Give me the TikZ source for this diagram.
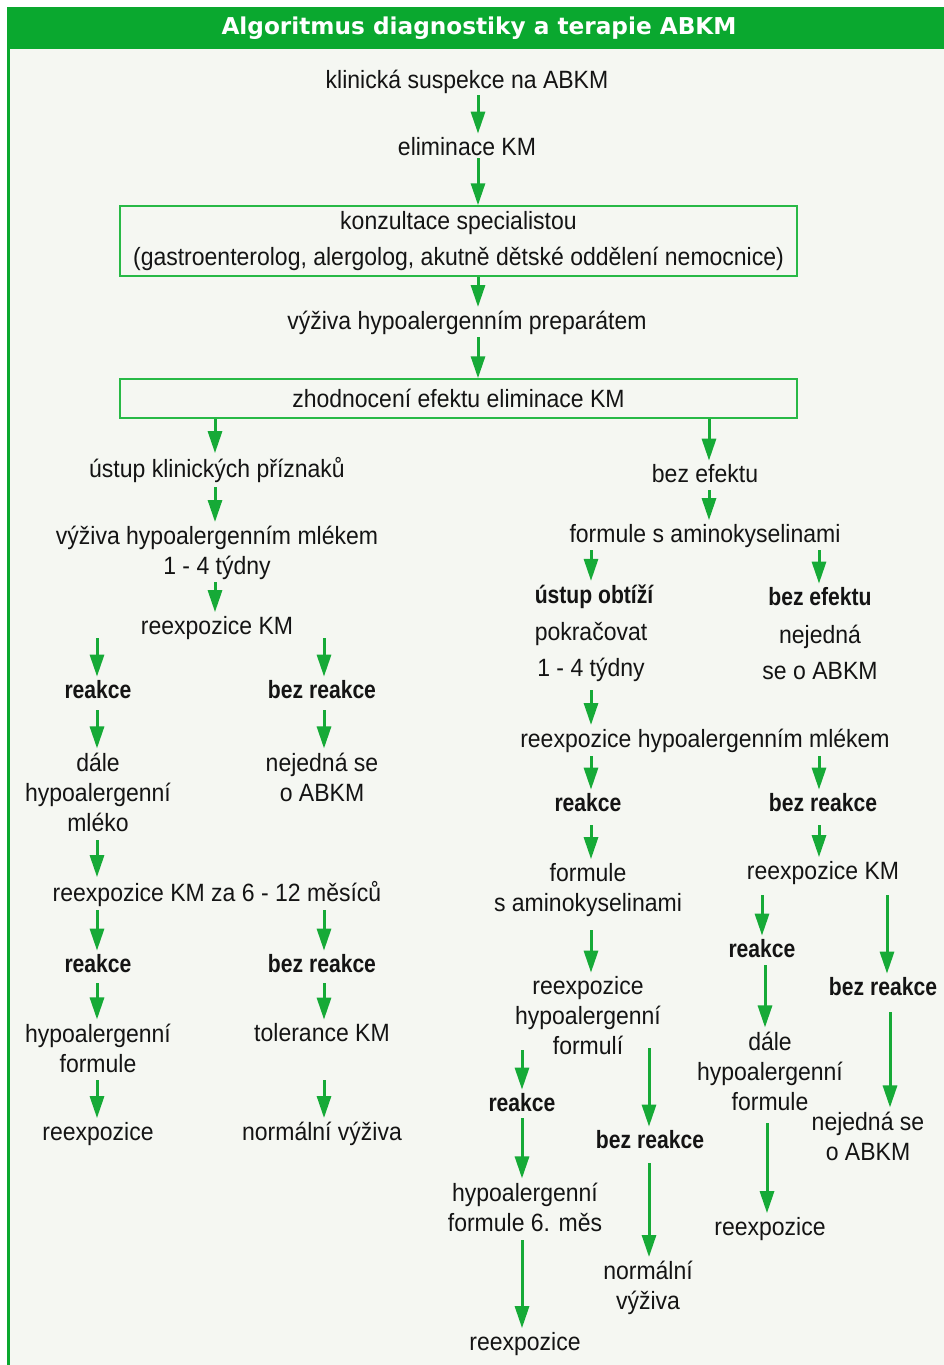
\documentclass[tikz,border=0pt]{standalone}
\usepackage{fontspec}
\setmainfont{Liberation Sans}[UprightFeatures={FakeStretch=0.92}, BoldFeatures={FakeStretch=0.845}]
\newfontfamily\titlefont{DejaVu Sans}
\usetikzlibrary{arrows.meta}
\definecolor{G}{RGB}{10,168,47}
\definecolor{AG}{RGB}{22,170,55}
\definecolor{BG}{RGB}{245,247,242}
\definecolor{BX}{RGB}{40,185,70}
\definecolor{TX}{RGB}{20,20,20}
\tikzset{
  txt/.style={inner sep=0pt, align=center, text=TX, font=\fontsize{25}{30}\selectfont},
  bl/.style={txt, font=\fontsize{25}{30}\selectfont\bfseries},
  frame/.style={draw=BX, line width=1.5pt, inner sep=0pt, txt},
  arr/.style={draw=AG, line width=3pt, -{Triangle[length=22pt,width=14pt]}, shorten >=4pt},
}
\begin{document}
\begin{tikzpicture}[x=1pt,y=-1pt]
\useasboundingbox (0,0) rectangle (944,1365);
% background and frame
\fill[BG] (8,7) rectangle (944,1365);
\fill[G] (7,7) rectangle (944,49);
\draw[G, line width=3pt] (8.5,49) -- (8.5,1365);
\node[font=\titlefont\fontsize{23.2}{26}\selectfont\bfseries, text=white, inner sep=0pt] (title) at (479,28) {Algoritmus diagnostiky a terapie ABKM};

% main column
\node[txt] (n1) at (467,82) {klinická suspekce na ABKM};
\node[txt] (n2) at (467,147) {eliminace KM};
\node[frame, minimum width=677pt, minimum height=70pt, font=\fontsize{25}{36}\selectfont] (b1) at (458.5,241) {konzultace specialistou\\(gastroenterolog, alergolog, akutně dětské oddělení nemocnice)};
\node[txt] (n4) at (467,323) {výživa hypoalergenním preparátem};
\node[frame, minimum width=677pt, minimum height=39pt] (b2) at (458.5,398.5) {zhodnocení efektu eliminace KM};

\coordinate (a1) at (478,95);
\draw[arr] (a1) -- (a1 |- n2.north);
\coordinate (a2) at (478,158);
\draw[arr, shorten >=0pt] (a2) -- (a2 |- b1.north);
\coordinate (a3) at (478,277);
\draw[arr] (a3) -- (a3 |- n4.north);
\coordinate (a4) at (478,337);
\draw[arr, shorten >=0pt] (a4) -- (a4 |- b2.north);

% left branch
\node[txt] (L1) at (217,470) {ústup klinických příznaků};
\node[txt] (L2) at (217,553) {výživa hypoalergenním mlékem\\1 - 4 týdny};
\node[txt] (L3) at (217,628) {reexpozice KM};
\node[bl] (L4a) at (98,690) {reakce};
\node[bl] (L4b) at (322,690) {bez reakce};
\node[txt] (L5a) at (98,792) {dále\\hypoalergenní\\mléko};
\node[txt] (L5b) at (322,777) {nejedná se\\o ABKM};
\node[txt] (L6) at (217,894) {reexpozice KM za 6 - 12 měsíců};
\node[bl] (L7a) at (98,964) {reakce};
\node[bl] (L7b) at (322,964) {bez reakce};
\node[txt] (L8a) at (98,1048) {hypoalergenní\\formule};
\node[txt] (L8b) at (322,1033) {tolerance KM};
\node[txt] (L9a) at (98,1134) {reexpozice};
\node[txt] (L9b) at (322,1134) {normální výživa};

\coordinate (a5) at (215,419);
\draw[arr] (a5) -- (a5 |- L1.north);
\coordinate (a7) at (215,487);
\draw[arr] (a7) -- (a7 |- L2.north);
\coordinate (a8) at (215,582);
\draw[arr] (a8) -- (a8 |- L3.north);
\coordinate (a9) at (97,638);
\draw[arr] (a9) -- (a9 |- L4a.north);
\coordinate (a10) at (324,638);
\draw[arr] (a10) -- (a10 |- L4b.north);
\coordinate (a11) at (97,710);
\draw[arr] (a11) -- (a11 |- L5a.north);
\coordinate (a12) at (324,710);
\draw[arr] (a12) -- (a12 |- L5b.north);
\coordinate (a13) at (97,840);
\draw[arr] (a13) -- (a13 |- L6.north);
\coordinate (a14) at (97,910);
\draw[arr] (a14) -- (a14 |- L7a.north);
\coordinate (a15) at (324,910);
\draw[arr] (a15) -- (a15 |- L7b.north);
\coordinate (a16) at (97,983);
\draw[arr] (a16) -- (a16 |- L8a.north);
\coordinate (a17) at (324,983);
\draw[arr] (a17) -- (a17 |- L8b.north);
\coordinate (a18) at (97,1080);
\draw[arr] (a18) -- (a18 |- L9a.north);
\coordinate (a19) at (324,1080);
\draw[arr] (a19) -- (a19 |- L9b.north);

% right branch
\node[txt] (R1) at (705,474) {bez efektu};
\node[txt] (R2) at (705,536) {formule s aminokyselinami};
\node[bl] (R3a) at (594,597) {ústup obtíží};
\node[bl] (R3b) at (820,597) {bez efektu};
\node[txt, font=\fontsize{25}{36}\selectfont] (R4a) at (591,652) {pokračovat\\1 - 4 týdny};
\node[txt, font=\fontsize{25}{36}\selectfont] (R4b) at (820,652) {nejedná\\se o ABKM};
\node[txt] (R5) at (705,741) {reexpozice hypoalergenním mlékem};
\node[bl] (R6a) at (588,803) {reakce};
\node[bl] (R6b) at (823,803) {bez reakce};
\node[txt] (R7a) at (588,890) {formule\\s aminokyselinami};
\node[txt] (R7b) at (823,873) {reexpozice KM};
\node[txt] (R8a) at (588,1016) {reexpozice\\hypoalergenní\\formulí};
\node[bl] (R8b) at (762,949) {reakce};
\node[bl] (R8c) at (883,987) {bez reakce};
\node[txt] (R9b) at (770,1071) {dále\\hypoalergenní\\formule};
\node[txt] (R9c) at (868,1136) {nejedná se\\o ABKM};
\node[txt] (R10b) at (770,1229) {reexpozice};
\node[bl] (R9a) at (522,1103) {reakce};
\node[bl] (R9d) at (650,1140) {bez reakce};
\node[txt] (R10a) at (525,1207) {hypoalergenní\\formule 6. měs};
\node[txt] (R11a) at (525,1344) {reexpozice};
\node[txt] (R10d) at (648,1288) {normální\\výživa};

\coordinate (a6) at (709,419);
\draw[arr] (a6) -- (a6 |- R1.north);
\coordinate (b1) at (709,490);
\draw[arr] (b1) -- (b1 |- R2.north);
\coordinate (b2) at (591,550);
\draw[arr] (b2) -- (b2 |- R3a.north);
\coordinate (b3) at (819,550);
\draw[arr] (b3) -- (b3 |- R3b.north);
\coordinate (b4) at (591,690);
\draw[arr] (b4) -- (b4 |- R5.north);
\coordinate (b5) at (591,756);
\draw[arr] (b5) -- (b5 |- R6a.north);
\coordinate (b6) at (819,756);
\draw[arr] (b6) -- (b6 |- R6b.north);
\coordinate (b7) at (591,825);
\draw[arr] (b7) -- (b7 |- R7a.north);
\coordinate (b8) at (819,825);
\draw[arr] (b8) -- (b8 |- R7b.north);
\coordinate (b9) at (591,930);
\draw[arr] (b9) -- (b9 |- R8a.north);
\coordinate (b10) at (762,895);
\draw[arr] (b10) -- (b10 |- R8b.north);
\coordinate (b11) at (887,895);
\draw[arr] (b11) -- (b11 |- R8c.north);
\coordinate (b12) at (765,965);
\draw[arr] (b12) -- (b12 |- R9b.north);
\coordinate (b13) at (890,1012);
\draw[arr] (b13) -- (b13 |- R9c.north);
\coordinate (b14) at (767,1123);
\draw[arr] (b14) -- (b14 |- R10b.north);
\coordinate (b15) at (522,1050);
\draw[arr] (b15) -- (b15 |- R9a.north);
\coordinate (b16) at (649,1048);
\draw[arr] (b16) -- (b16 |- R9d.north);
\coordinate (b17) at (522,1118);
\draw[arr] (b17) -- (b17 |- R10a.north);
\coordinate (b18) at (522,1240);
\draw[arr] (b18) -- (b18 |- R11a.north);
\coordinate (b19) at (649,1163);
\draw[arr] (b19) -- (b19 |- R10d.north);
\end{tikzpicture}
\end{document}
